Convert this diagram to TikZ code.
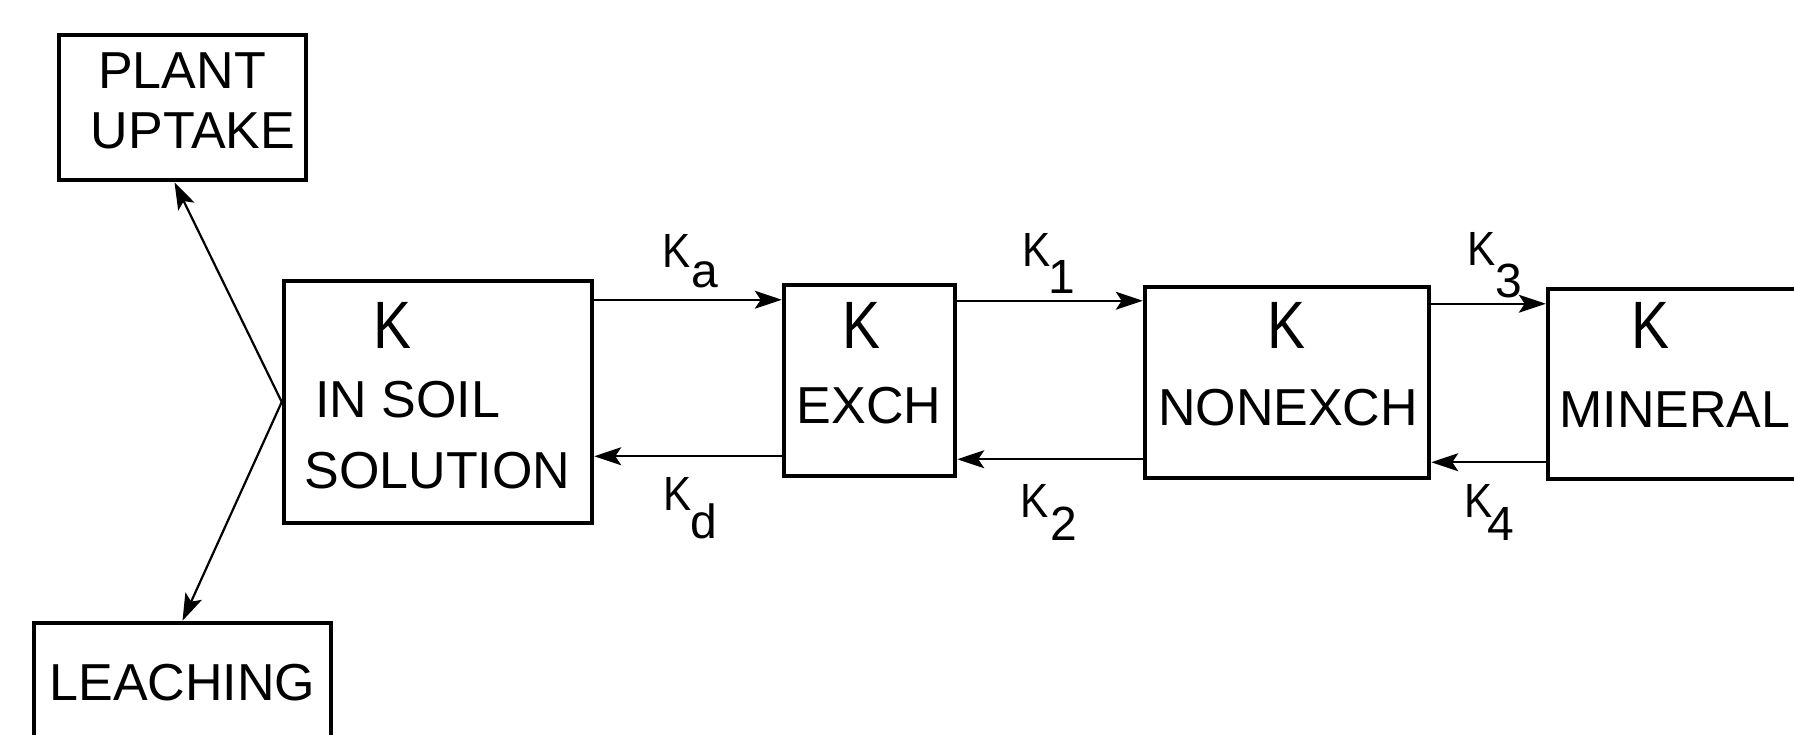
\documentclass[tikz,border=0pt]{standalone}
\usepackage{fontspec}
\setmainfont{Liberation Sans}
\usetikzlibrary{arrows.meta}
\newcommand\ratelab[3]{\scalebox{0.88}[1]{K}\kern#1pt\raisebox{-#2pt}{#3}}
\newcommand\bigK{\scalebox{0.85}[1]{K}}
\begin{document}
\begin{tikzpicture}[x=1pt,y=1pt,
  box/.style={draw,line width=4.5pt,rectangle,inner sep=0pt},
  flow/.style={line width=2.2pt,-{Stealth[length=27pt,width=18pt,inset=6pt]}},
  txt/.style={inner sep=0pt,anchor=base,font=\fontsize{52}{60}\selectfont},
  bigk/.style={inner sep=0pt,anchor=base,font=\fontsize{67}{70}\selectfont},
  rate/.style={inner sep=0pt,anchor=base west,font=\fontsize{48}{50}\selectfont}]
\useasboundingbox (0,0) rectangle (1794,-734);
\clip (0,0) rectangle (1794,-734);
% boxes
\node[box,minimum width=247pt,minimum height=145pt] (plant) at (182.5,-107.5) {};
\node[box,minimum width=308pt,minimum height=242pt] (soil) at (438,-402) {};
\node[box,minimum width=297pt,minimum height=146pt] (leach) at (182.5,-696) {};
\node[box,minimum width=171pt,minimum height=191pt] (exch) at (869.5,-380.5) {};
\node[box,minimum width=284pt,minimum height=191pt] (nonexch) at (1287,-382.5) {};
\node[box,minimum width=254pt,minimum height=190pt] (mineral) at (1675,-384) {};
% texts in boxes
\node[txt] (plantA) at (182,-88) {PLANT};
\node[txt] (plantB) at (193,-148) {UPTAKE};
\node[txt] (leachT) at (182.5,-700) {LEACHING};
\node[bigk] (soilK) at (392,-348) {\bigK};
\node[txt] (soilA) at (407.5,-417) {IN SOIL};
\node[txt] (soilB) at (437.5,-488) {SOLUTION};
\node[bigk] (exchK) at (861,-348) {\bigK};
\node[txt] (exchT) at (869,-423) {EXCH};
\node[bigk] (nonK) at (1286.5,-348) {\bigK};
\node[txt] (nonT) at (1288,-425) {NONEXCH};
\node[bigk] (minK) at (1650,-348) {\bigK};
\node[txt] (minT) at (1675,-427) {MINERAL};
% connectors
\draw[flow] (soil.west) -- ([xshift=-8pt]plant.south);
\draw[flow] (soil.west) -- (leach.north);
\draw[flow] ([yshift=-21pt]soil.north east) -- ([yshift=-21pt]soil.north east -| exch.west);
\draw[flow] ([yshift=22pt]exch.south west) -- ([yshift=22pt]exch.south west -| soil.east);
\draw[flow] ([yshift=-18pt]exch.north east) -- ([yshift=-18pt]exch.north east -| nonexch.west);
\draw[flow] ([yshift=21pt]nonexch.south west) -- ([yshift=21pt]nonexch.south west -| exch.east);
\draw[flow] ([yshift=-19pt]nonexch.north east) -- ([yshift=-19pt]nonexch.north east -| mineral.west);
\draw[flow] ([yshift=19pt]mineral.south west) -- ([yshift=19pt]mineral.south west -| nonexch.east);
% rate labels
\node[rate] (ka) at (662,-267) {\ratelab{1}{20}{a}};
\node[rate] (kd) at (663,-510) {\ratelab{-1}{28}{d}};
\node[rate] (k1) at (1022,-266) {\ratelab{-2}{27}{1}};
\node[rate] (k2) at (1020,-517) {\ratelab{2}{23}{2}};
\node[rate] (k3) at (1467,-265) {\ratelab{0}{32}{3}};
\node[rate] (k4) at (1464,-517) {\ratelab{-5}{23}{4}};
\end{tikzpicture}
\end{document}
